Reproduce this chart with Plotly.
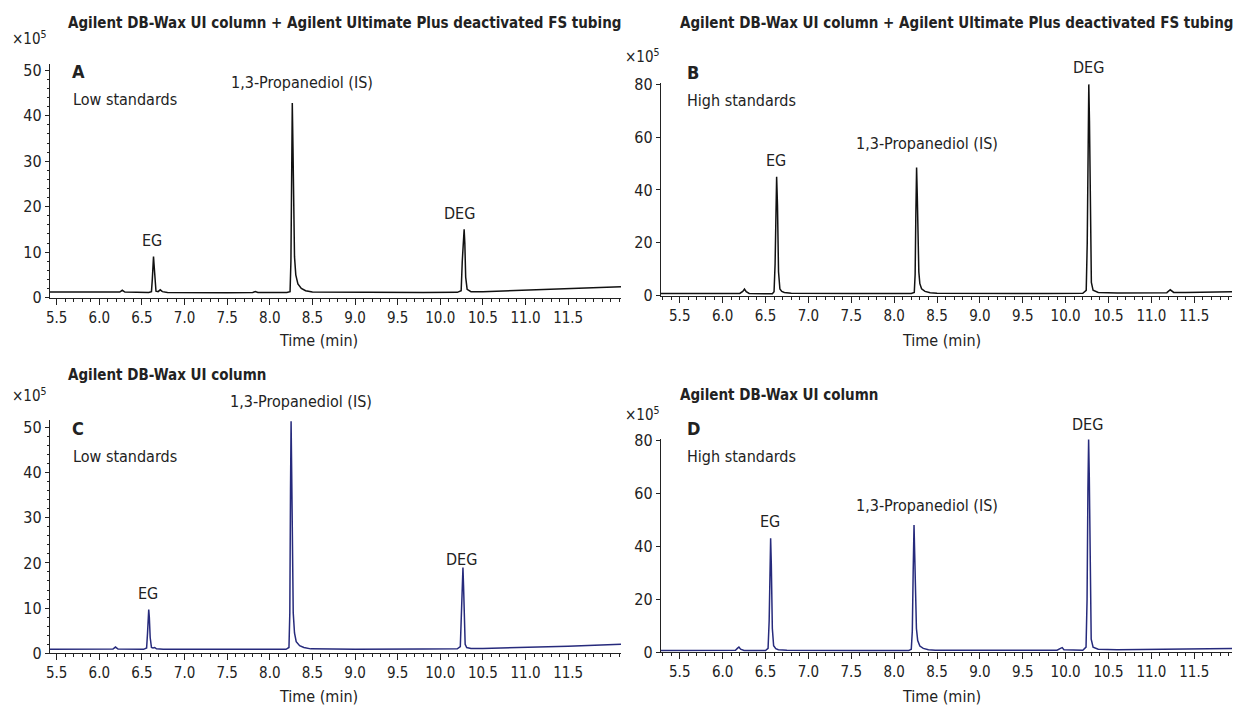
import plotly.graph_objects as go

W, H = 1234, 717
FONT = "Liberation Sans Narrow, DejaVu Sans Condensed, Arial Narrow, sans-serif"
BLACK = "#111111"
NAVY = "#262a7c"

# ---------------- data ----------------
# Panel A: column + Ultimate Plus tubing, low standards
A_time = [5.42, 6.00, 6.24, 6.27, 6.30, 6.58, 6.612, 6.622, 6.630, 6.636, 6.642, 6.652, 6.665, 6.69, 6.715, 6.74, 6.80,
          7.50, 7.80, 7.83, 7.86, 8.20, 8.238, 8.248, 8.256, 8.264, 8.272, 8.280, 8.290, 8.305, 8.33, 8.37, 8.42, 8.50,
          9.00, 9.80, 10.20, 10.245, 10.258, 10.270, 10.280, 10.288, 10.298, 10.315, 10.36, 10.50, 11.00, 11.50, 12.12]
A_sig = [1.2, 1.1, 1.2, 1.6, 1.2, 1.1, 1.3, 4.0, 7.8, 9.0, 7.4, 3.2, 1.4, 1.3, 1.7, 1.3, 1.1,
         1.05, 1.1, 1.3, 1.1, 1.1, 1.3, 8.0, 30.0, 42.8, 33.0, 18.0, 9.0, 5.0, 3.0, 2.0, 1.5, 1.2,
         1.1, 1.1, 1.15, 1.5, 8.0, 14.0, 15.0, 12.0, 4.5, 1.8, 1.3, 1.3, 1.6, 1.9, 2.4]

# Panel B: column + Ultimate Plus tubing, high standards
B_time = [5.28, 5.80, 6.20, 6.235, 6.255, 6.275, 6.31, 6.58, 6.600, 6.612, 6.622, 6.630, 6.640, 6.652, 6.668, 6.69, 6.72, 6.80,
          7.50, 8.20, 8.235, 8.245, 8.253, 8.262, 8.270, 8.278, 8.288, 8.300, 8.32, 8.36, 8.42, 8.50,
          9.00, 9.80, 10.20, 10.240, 10.252, 10.262, 10.270, 10.278, 10.288, 10.300, 10.32, 10.38, 10.60,
          11.18, 11.22, 11.26, 11.40, 11.94]
B_sig = [0.8, 0.7, 0.8, 1.6, 2.5, 1.5, 0.8, 0.7, 1.5, 12.0, 36.0, 45.0, 34.0, 9.0, 2.5, 1.6, 1.2, 0.9,
         0.8, 0.8, 1.2, 8.0, 30.0, 48.5, 38.0, 20.0, 9.0, 4.5, 2.6, 1.6, 1.1, 0.9,
         0.8, 0.8, 0.9, 2.0, 20.0, 62.0, 80.0, 66.0, 25.0, 5.0, 2.0, 1.2, 1.0,
         1.1, 2.2, 1.2, 1.2, 1.5]

# Panel C: column only, low standards
C_time = [5.42, 6.00, 6.16, 6.19, 6.22, 6.52, 6.555, 6.566, 6.574, 6.580, 6.587, 6.597, 6.612, 6.63, 6.65, 6.67, 6.75,
          7.50, 8.19, 8.225, 8.235, 8.243, 8.250, 8.257, 8.265, 8.275, 8.290, 8.31, 8.35, 8.40, 8.48,
          9.00, 9.80, 10.20, 10.235, 10.248, 10.258, 10.266, 10.273, 10.281, 10.292, 10.31, 10.36, 10.50,
          11.00, 11.50, 12.12]
C_sig = [0.9, 0.9, 0.95, 1.4, 0.95, 0.9, 1.2, 4.5, 8.5, 9.7, 8.0, 3.5, 1.3, 1.2, 1.3, 1.0, 0.9,
         0.85, 0.9, 1.3, 9.0, 36.0, 51.3, 40.0, 20.0, 9.0, 4.5, 2.6, 1.7, 1.3, 1.0,
         0.9, 0.95, 1.0, 1.5, 8.0, 16.0, 19.0, 15.0, 6.0, 2.0, 1.3, 1.1, 1.1,
         1.3, 1.6, 2.0]

# Panel D: column only, high standards
D_time = [5.28, 5.80, 6.15, 6.175, 6.19, 6.21, 6.25, 6.50, 6.530, 6.543, 6.553, 6.560, 6.568, 6.580, 6.595, 6.62, 6.65, 6.75,
          7.50, 8.17, 8.200, 8.212, 8.222, 8.232, 8.240, 8.250, 8.260, 8.275, 8.30, 8.34, 8.40, 8.48,
          9.00, 9.90, 9.94, 9.96, 9.98, 10.20, 10.238, 10.250, 10.260, 10.268, 10.276, 10.286, 10.298, 10.32, 10.38, 10.60,
          11.20, 11.94]
D_sig = [0.7, 0.7, 0.8, 1.6, 2.0, 1.2, 0.7, 0.7, 1.5, 12.0, 35.0, 43.0, 33.0, 9.0, 2.5, 1.4, 1.0, 0.8,
         0.7, 0.7, 1.2, 8.0, 30.0, 48.0, 37.0, 19.0, 9.0, 4.5, 2.4, 1.5, 1.0, 0.8,
         0.7, 0.8, 1.5, 1.8, 1.0, 0.8, 2.0, 20.0, 62.0, 80.3, 66.0, 25.0, 5.0, 2.0, 1.2, 1.0,
         1.1, 1.5]

X_TICKS = [5.5, 6.0, 6.5, 7.0, 7.5, 8.0, 8.5, 9.0, 9.5, 10.0, 10.5, 11.0, 11.5]
X_TICK_TEXT = ["5.5", "6.0", "6.5", "7.0", "7.5", "8.0", "8.5", "9.0", "9.5", "10.0", "10.5", "11.0", "11.5"]
Y_TICKS_LOW = [0, 10, 20, 30, 40, 50]
Y_TICKS_HIGH = [0, 20, 40, 60, 80]

TITLE_TOP = "Agilent DB-Wax UI column + Agilent Ultimate Plus deactivated FS tubing"
TITLE_BOTTOM = "Agilent DB-Wax UI column"

# ---------------- layout helpers ----------------
def px(x):
    return x / W

def py(y):
    return 1 - y / H

panels = [
    ("", A_time, A_sig, BLACK, (46, 619), (297, 57), [5.42, 12.12], [0, 51.5], Y_TICKS_LOW, 2),
    ("2", B_time, B_sig, BLACK, (659, 1232), (295, 77), [5.28, 11.94], [0, 80.5], Y_TICKS_HIGH, None),
    ("3", C_time, C_sig, NAVY, (46, 619), (662, 423), [5.42, 12.12], [0, 51.5], Y_TICKS_LOW, 2),
    ("4", D_time, D_sig, NAVY, (659, 1232), (661, 442), [5.28, 11.94], [0, 80.5], Y_TICKS_HIGH, None),
]

fig = go.Figure()
layout = dict(
    width=W, height=H,
    margin=dict(l=0, r=0, t=0, b=0),
    paper_bgcolor="white", plot_bgcolor="white",
    showlegend=False,
    font=dict(family=FONT, size=15, color="#222222"),
)

for key, t, s, col, xd, yd, xr, yr, yt, mdt in panels:
    fig.add_trace(go.Scatter(x=t, y=s, mode="lines", line=dict(color=col, width=1.5),
                             xaxis="x" + key, yaxis="y" + key, hoverinfo="skip", cliponaxis=False))
    layout["xaxis" + key] = dict(
        domain=[px(xd[0]), px(xd[1])], range=xr, anchor="y" + key,
        tickmode="array", tickvals=X_TICKS, ticktext=X_TICK_TEXT,
        ticks="outside", ticklen=6, tickwidth=1, tickcolor="#222",
        minor=dict(tickmode="linear", tick0=5.0, dtick=0.1, ticks="outside", ticklen=3, tickwidth=1, tickcolor="#222"),
        showline=True, linecolor="#222", linewidth=1,
        showgrid=False, zeroline=False,
        tickfont=dict(family=FONT, size=15, color="#222"),
    )
    ya = dict(
        domain=[py(yd[0]), py(yd[1])], range=yr, anchor="x" + key,
        tickmode="array", tickvals=yt,
        ticks="outside", ticklen=4, tickwidth=1, tickcolor="#222",
        showline=True, linecolor="#222", linewidth=1,
        showgrid=False, zeroline=False,
        tickfont=dict(family=FONT, size=16, color="#222"),
    )
    if mdt:
        ya["minor"] = dict(tickmode="linear", tick0=0, dtick=mdt, ticks="outside", ticklen=2, tickwidth=1, tickcolor="#222")
    layout["yaxis" + key] = ya

fig.update_layout(**layout)

ann = []

def text(x, y, s, size=15, bold=False, anchor="left", xref="paper", yref="paper"):
    if xref == "paper":
        x = px(x)
    if yref == "paper":
        y = py(y)
    ann.append(dict(x=x, y=y, xref=xref, yref=yref, text=("<b>%s</b>" % s) if bold else s,
                    showarrow=False, xanchor=anchor, yanchor="middle",
                    font=dict(family=FONT, size=size, color="#222222")))

# panel titles
text(62, 15, TITLE_TOP, size=15, bold=True)
text(676, 15, TITLE_TOP, size=15, bold=True)
text(62, 376, TITLE_BOTTOM, size=15, bold=True)
text(676, 397, TITLE_BOTTOM, size=15, bold=True)

# exponent labels
for (x, y) in [(6, 31), (621, 49), (6, 397), (621, 416)]:
    text(x, y, "×10<sup>5</sup>", size=15)

# panel letters and sub-labels
text(66, 65, "A", size=18, bold=True)
text(67, 94, "Low standards", size=16)
text(683, 66, "B", size=18, bold=True)
text(683, 95, "High standards", size=16)
text(66, 431, "C", size=18, bold=True)
text(67, 460, "Low standards", size=16)
text(683, 431, "D", size=18, bold=True)
text(683, 460, "High standards", size=16)

# x axis titles
for (x, y) in [(316, 341), (941, 341), (316, 706), (941, 706)]:
    text(x, y, "Time (min)", size=16, anchor="center")

# peak labels (data coordinates inside the plot range, paper coordinates above it)
text(6.62, 12.6, "EG", size=16, anchor="center", xref="x", yref="y")
text(8.38, 47.4, "1,3-Propanediol (IS)", size=16, anchor="center", xref="x", yref="y")
text(10.22, 18.6, "DEG", size=16, anchor="center", xref="x", yref="y")

text(6.62, 51.0, "EG", size=16, anchor="center", xref="x2", yref="y2")
text(8.38, 57.5, "1,3-Propanediol (IS)", size=16, anchor="center", xref="x2", yref="y2")
text(1088, 61, "DEG", size=16, anchor="center")

text(6.57, 13.2, "EG", size=16, anchor="center", xref="x3", yref="y3")
text(298, 404, "1,3-Propanediol (IS)", size=16, anchor="center")
text(10.25, 20.8, "DEG", size=16, anchor="center", xref="x3", yref="y3")

text(6.55, 49.5, "EG", size=16, anchor="center", xref="x4", yref="y4")
text(8.38, 55.5, "1,3-Propanediol (IS)", size=16, anchor="center", xref="x4", yref="y4")
text(1087, 427, "DEG", size=16, anchor="center")

fig.update_layout(annotations=ann)
fig.write_html(
    "out.html",
    config={"displayModeBar": False},
    post_script="document.body.style.margin='0';document.body.style.overflow='hidden';",
)
